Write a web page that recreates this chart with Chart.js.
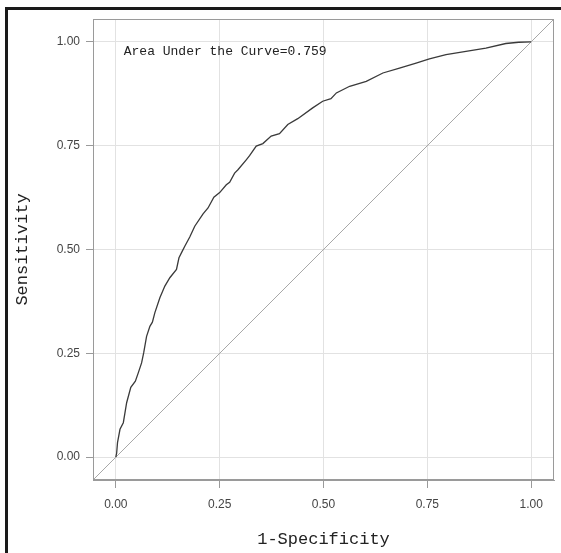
<!DOCTYPE html>
<html>
<head>
<meta charset="utf-8">
<script src="https://cdn.jsdelivr.net/npm/chart.js@4/dist/chart.umd.min.js"></script>
<style>
  html, body { margin: 0; padding: 0; background: #fff; }
  #wrap { position: relative; width: 561px; height: 553px; }
  #frame { position: absolute; left: 5px; top: 7px; right: 0; bottom: 0;
           border-left: 3px solid #1a1a1a; border-top: 3px solid #1a1a1a; pointer-events: none; }
  canvas { position: absolute; left: 0; top: 0; }
</style>
</head>
<body>
<div id="wrap">
  <canvas id="c" width="561" height="553"></canvas>
  <div id="frame"></div>
</div>
<script>
// ROC curve values
const fpr = [0.000,0.002,0.004,0.010,0.018,0.026,0.036,0.047,0.054,0.062,0.067,0.074,0.082,0.088,0.094,0.106,0.118,0.130,0.146,0.152,0.160,0.166,0.178,0.190,0.210,0.222,0.236,0.250,0.266,0.274,0.286,0.294,0.314,0.322,0.338,0.354,0.374,0.394,0.414,0.438,0.474,0.498,0.518,0.531,0.563,0.603,0.643,0.683,0.723,0.755,0.795,0.843,0.891,0.939,0.970,1.000];
const tpr = [0.000,0.010,0.035,0.067,0.083,0.131,0.168,0.183,0.203,0.227,0.251,0.291,0.315,0.325,0.348,0.384,0.412,0.432,0.452,0.480,0.496,0.508,0.530,0.556,0.586,0.600,0.626,0.637,0.656,0.662,0.684,0.692,0.716,0.726,0.749,0.755,0.773,0.779,0.801,0.815,0.841,0.857,0.863,0.877,0.893,0.905,0.925,0.937,0.949,0.959,0.969,0.977,0.985,0.996,0.999,1.000];
const refLineX = [-0.055, 1.055];
const refLineY = [-0.055, 1.055];
const tickValues = [0, 0.25, 0.5, 0.75, 1.0];
const axisMin = -0.055, axisMax = 1.055;
const aucLabel = "Area Under the Curve=0.759";
const aucPos = [0.019, 0.976];
const xTitle = "1-Specificity";
const yTitle = "Sensitivity";

const rocData = fpr.map((x, i) => ({x: x, y: tpr[i]}));
const diagData = refLineX.map((x, i) => ({x: x, y: refLineY[i]}));

const framePlugin = {
  id: 'frame',
  afterDatasetsDraw(chart) {
    const {ctx, chartArea: a} = chart;
    ctx.save();
    ctx.strokeStyle = '#9a9a9a';
    ctx.lineWidth = 1;
    ctx.strokeRect(Math.round(a.left) + 0.5, Math.round(a.top) + 0.5,
                   Math.round(a.right - a.left) - 1, Math.round(a.bottom - a.top) - 1);
    const xs = chart.scales.x, ys = chart.scales.y;
    ctx.fillStyle = '#222';
    ctx.font = '13px "Liberation Mono", monospace';
    ctx.textBaseline = 'middle';
    ctx.textAlign = 'left';
    ctx.fillText(aucLabel, xs.getPixelForValue(aucPos[0]), ys.getPixelForValue(aucPos[1]));
    ctx.restore();
  }
};

const tickFont = {family: '"Liberation Sans", Arial, sans-serif', size: 12};
const titleFont = {family: '"Liberation Mono", monospace', size: 17};

new Chart(document.getElementById('c'), {
  type: 'scatter',
  data: {
    datasets: [
      { data: diagData, showLine: true, borderColor: '#a8a8a8', borderWidth: 1,
        pointRadius: 0, fill: false, tension: 0, order: 2 },
      { data: rocData, showLine: true, borderColor: '#3a3a3a', borderWidth: 1.3,
        pointRadius: 0, fill: false, tension: 0, order: 1 }
    ]
  },
  plugins: [framePlugin],
  options: {
    responsive: false,
    animation: false,
    devicePixelRatio: 1,
    layout: { padding: { left: 8, top: 19, right: 7, bottom: 0 } },
    plugins: { legend: { display: false }, tooltip: { enabled: false } },
    scales: {
      x: {
        type: 'linear', min: axisMin, max: axisMax,
        afterBuildTicks: s => { s.ticks = tickValues.map(v => ({value: v})); },
        afterFit: s => { s.height = 73; },
        ticks: { callback: v => Number(v).toFixed(2), color: '#444', font: tickFont, padding: 9, maxRotation: 0 },
        grid: { color: '#e2e2e2', lineWidth: 1, tickColor: '#9a9a9a', tickLength: 8, drawTicks: true },
        border: { display: true, color: '#9a9a9a' },
        title: { display: true, text: xTitle, color: '#222', font: titleFont, padding: {top: 10, bottom: 3} }
      },
      y: {
        type: 'linear', min: axisMin, max: axisMax,
        afterBuildTicks: s => { s.ticks = tickValues.map(v => ({value: v})); },
        afterFit: s => { s.width = 85; },
        ticks: { callback: v => Number(v).toFixed(2), color: '#444', font: tickFont, padding: 6 },
        grid: { color: '#e2e2e2', lineWidth: 1, tickColor: '#9a9a9a', tickLength: 7, drawTicks: true },
        border: { display: true, color: '#9a9a9a' },
        title: { display: true, text: yTitle, color: '#222', font: titleFont, padding: {top: 4, bottom: 4} }
      }
    }
  }
});
</script>
</body>
</html>
